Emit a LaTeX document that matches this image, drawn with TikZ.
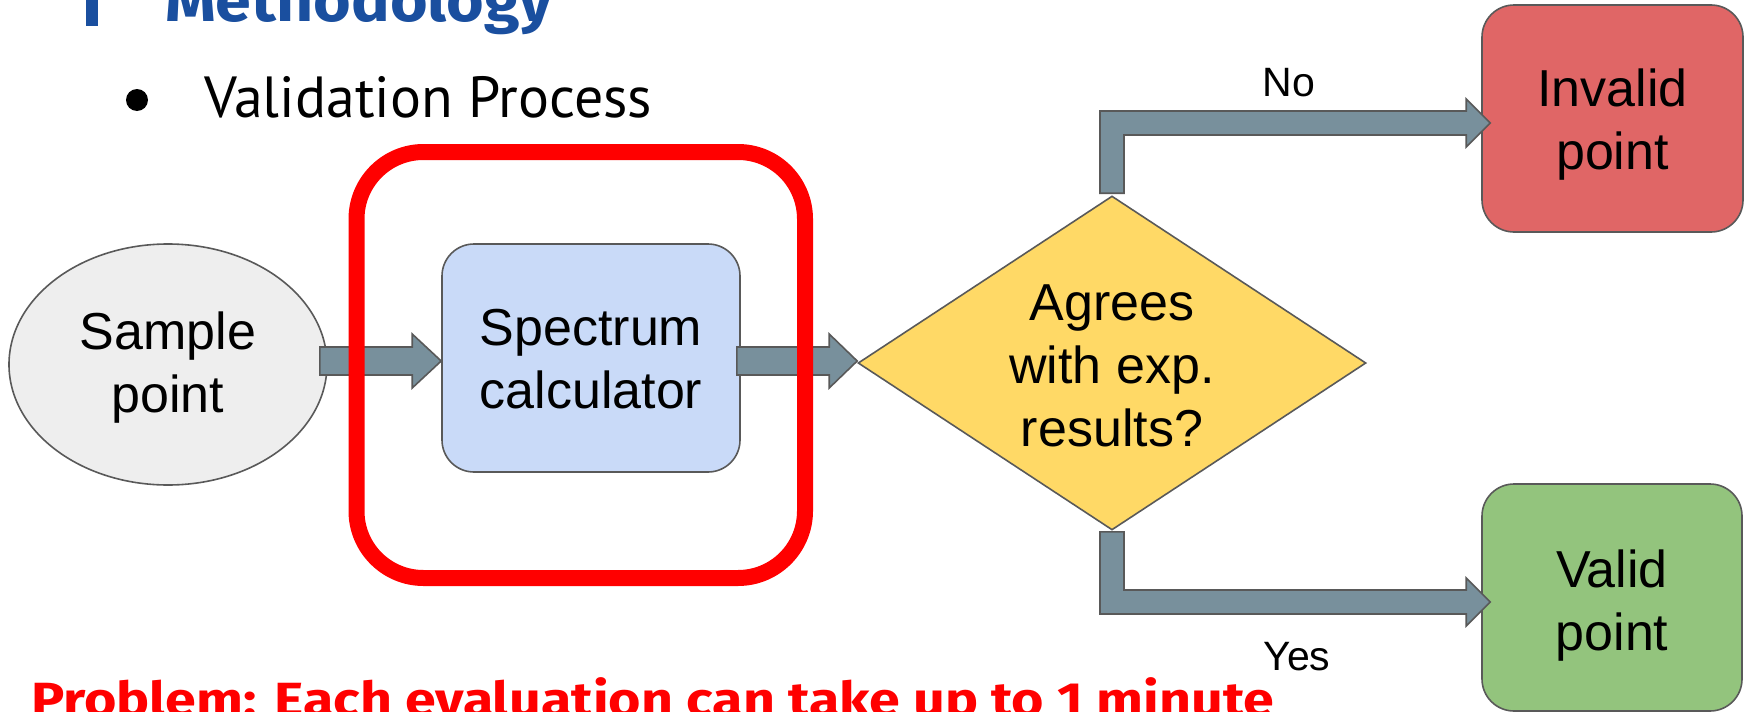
\documentclass[tikz,border=0pt]{standalone}
\usepackage{fontspec}
\usepackage{graphicx}
\setmainfont{Liberation Sans}
\newfontfamily\headfont{Fira Sans}
\newfontfamily\slidefont{PT Sans}
\usetikzlibrary{shapes.geometric,calc}

\definecolor{headblue}{HTML}{1A4F9F}
\definecolor{edgegray}{HTML}{595959}
\definecolor{arrowfill}{HTML}{78909C}
\definecolor{startfill}{HTML}{EEEEEE}
\definecolor{procfill}{HTML}{C9DAF8}
\definecolor{decfill}{HTML}{FFD966}
\definecolor{badfill}{HTML}{E06666}
\definecolor{goodfill}{HTML}{93C47D}
\definecolor{alertred}{HTML}{FF0000}

\begin{document}
\begin{tikzpicture}[x=1pt,y=-1pt,
  shapeborder/.style={draw=edgegray, line width=1.6pt, inner sep=0pt},
  nodetext/.style={font=\fontsize{52}{63}\selectfont, align=center, text=black, inner sep=0pt},
  procbox/.style={shapeborder, rectangle, rounded corners=32pt},
  blockarrow/.style={fill=arrowfill, draw=edgegray, line width=1.6pt, line join=miter},
  branchlabel/.style={font=\fontsize{41}{48}\selectfont, inner sep=0pt},
]
% page frame (pixel grid, y pointing down)
\path[use as bounding box] (0,0) rectangle (1748,712);
\clip (0,0) rectangle (1748,712);

% slide heading, cut by the top edge
\fill[headblue] (86,-10) rectangle (98,26);
\node[anchor=base west, inner sep=0pt, text=headblue] (heading) at (165,21)
  {\resizebox{388pt}{\height}{\headfont\bfseries\fontsize{60}{70}\selectfont Methodology}};

% bullet line
\fill (137,100) circle (11);
\node[anchor=base west, inner sep=0pt] (bullet) at (204,117)
  {\resizebox{448pt}{\height}{\slidefont\fontsize{58}{68}\selectfont Validation Process}};

% flowchart shapes
\node[shapeborder, ellipse, fill=startfill,
      minimum width=318pt, minimum height=241pt] (sp) at (168,364.5) {};
\node[procbox, fill=procfill, minimum width=298pt, minimum height=228pt]
      (sc) at (591,358) {};
\node[shapeborder, diamond, fill=decfill,
      minimum width=508pt, minimum height=334pt] (dec) at (1112,363) {};
\node[procbox, fill=badfill, minimum width=261pt, minimum height=227pt]
      (inv) at (1612.5,118.5) {};
\node[procbox, fill=goodfill, minimum width=260pt, minimum height=227pt]
      (val) at (1612,597.5) {};

% their labels
\node[nodetext] (sptext)  at ($(sp.center)+(0,3)$)  {Sample\\point};
\node[nodetext] (sctext)  at ($(sc.center)+(0,1)$)  {Spectrum\\calculator};
\node[nodetext] (dectext) at ($(dec.center)+(0,3)$) {Agrees\\with exp.\\results?};
\node[nodetext] (invtext) at ($(inv.center)+(0,6)$) {Invalid\\point};
\node[nodetext] (valtext) at ($(val.center)+(0,8)$) {Valid\\point};

% straight block arrows
\coordinate (row) at (0,361);
\coordinate (a1s) at ($(sp.east |- row)+(-8,0)$);
\coordinate (a1t) at (sc.west |- row);
\path[blockarrow] ($(a1s)+(0,-14)$) -- ($(a1t)+(-29,-14)$) -- ($(a1t)+(-29,-27)$)
  -- (a1t) -- ($(a1t)+(-29,27)$) -- ($(a1t)+(-29,14)$) -- ($(a1s)+(0,14)$) -- cycle;

\coordinate (a2s) at ($(sc.east |- row)+(-4,0)$);
\coordinate (a2t) at (dec.west |- row);
\path[blockarrow] ($(a2s)+(0,-14)$) -- ($(a2t)+(-28,-14)$) -- ($(a2t)+(-28,-27)$)
  -- (a2t) -- ($(a2t)+(-28,27)$) -- ($(a2t)+(-28,14)$) -- ($(a2s)+(0,14)$) -- cycle;

% elbow block arrows out of the decision
\coordinate (noTip) at ($(inv.west)+(9,4.5)$);
\coordinate (noFoot) at ($(dec.north)+(0,-2)$);
\path[blockarrow] ($(noFoot)+(-12,0)$) -- ($(noFoot |- noTip)+(-12,-12)$)
  -- ($(noTip)+(-24,-12)$) -- ($(noTip)+(-24,-24)$) -- (noTip)
  -- ($(noTip)+(-24,24)$) -- ($(noTip)+(-24,12)$)
  -- ($(noFoot |- noTip)+(12,12)$) -- ($(noFoot)+(12,0)$) -- cycle;

\coordinate (yesTip) at ($(val.west)+(9,4.5)$);
\coordinate (yesFoot) at ($(dec.south)+(0,1)$);
\path[blockarrow] ($(yesFoot)+(-12,0)$) -- ($(yesFoot |- yesTip)+(-12,12)$)
  -- ($(yesTip)+(-24,12)$) -- ($(yesTip)+(-24,24)$) -- (yesTip)
  -- ($(yesTip)+(-24,-24)$) -- ($(yesTip)+(-24,-12)$)
  -- ($(yesFoot |- yesTip)+(12,-12)$) -- ($(yesFoot)+(12,0)$) -- cycle;

% branch labels
\node[branchlabel] (nolabel) at (1289,83) {No};
\node[branchlabel] (yeslabel) at (1297,657) {Yes};

% highlight around the costly step
\node[draw=alertred, line width=16pt, rounded corners=67pt,
      minimum width=448.5pt, minimum height=426pt, inner sep=0pt] (focus) at (580.75,365) {};

% remark, cut by the bottom edge
\node[anchor=base west, inner sep=0pt, text=alertred] (remark) at (31,716)
  {\resizebox{1243pt}{\height}{\headfont\bfseries\fontsize{48}{56}\selectfont Problem: Each evaluation can take up to 1 minute}};
\end{tikzpicture}
\end{document}
